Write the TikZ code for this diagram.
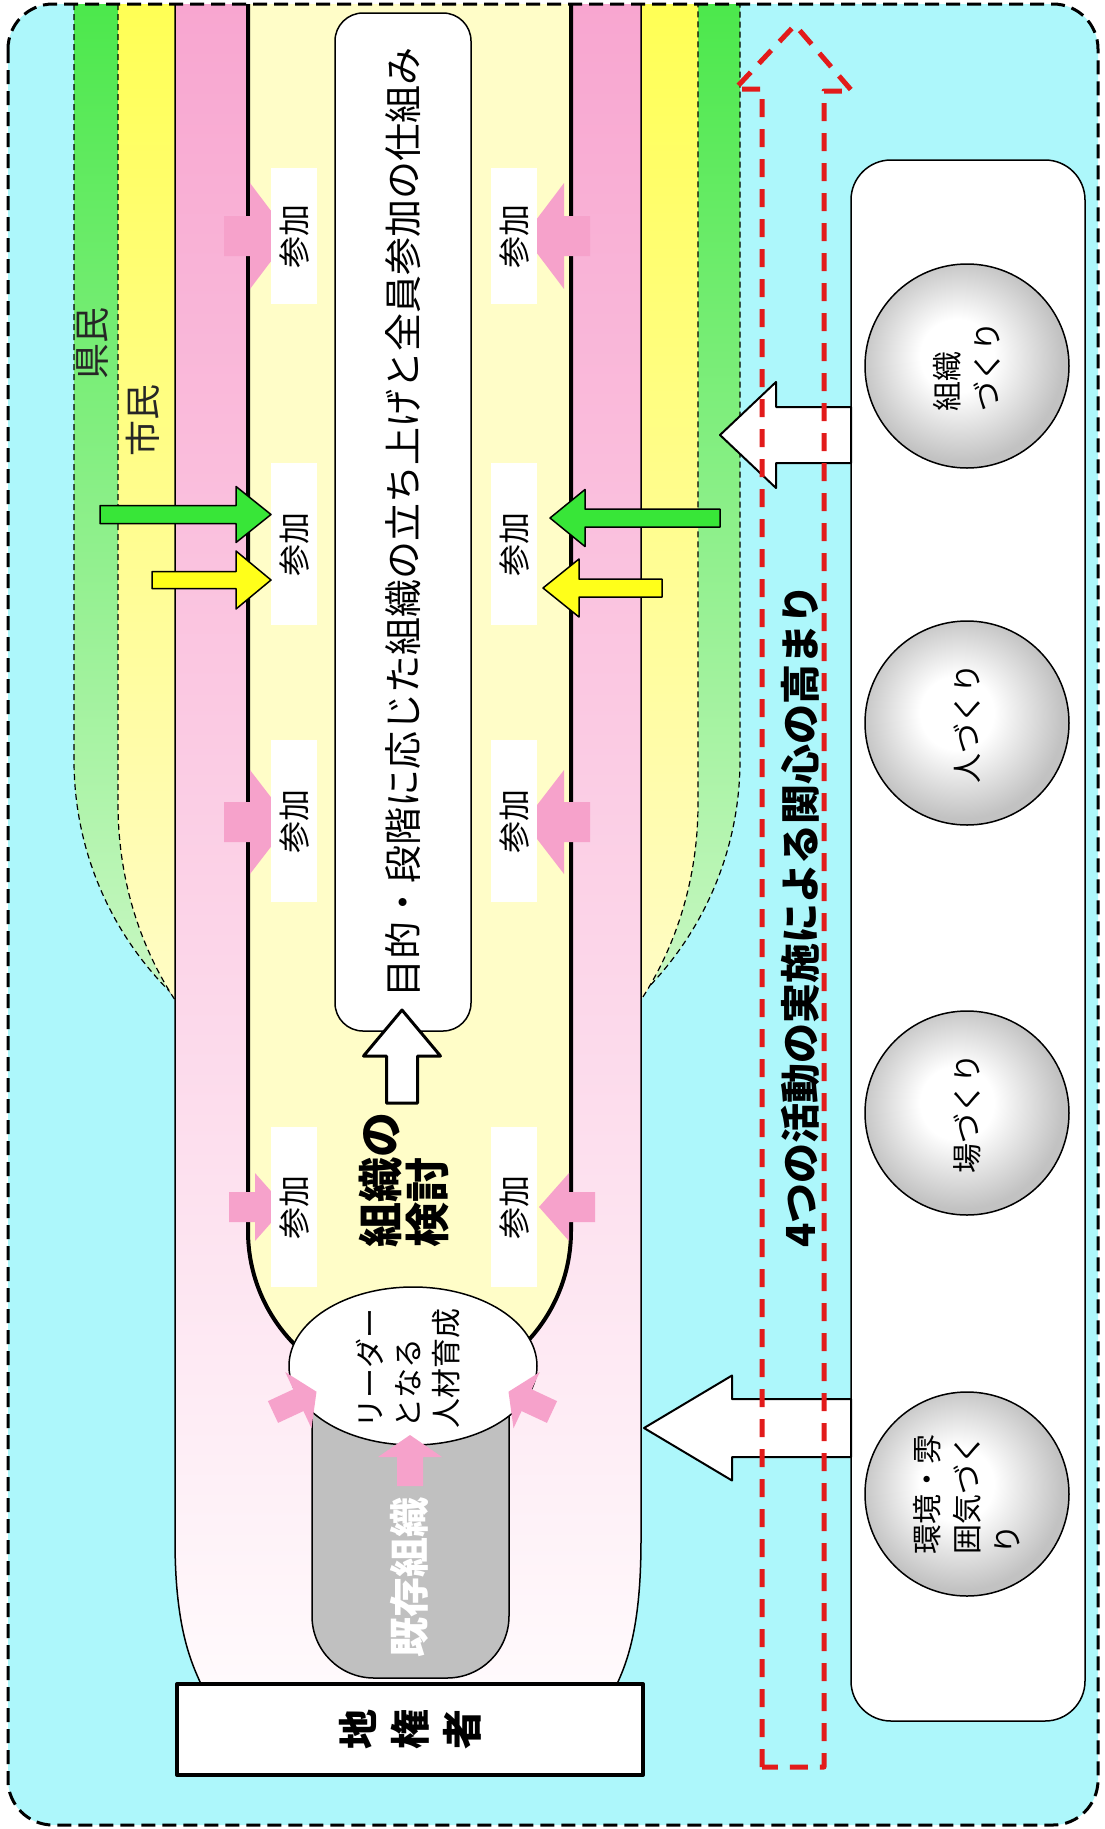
\documentclass[tikz,border=0pt]{standalone}
\usepackage{fontspec}
\newfontfamily\jp{Noto Sans CJK JP}
\usetikzlibrary{shapes.geometric}
\definecolor{sky}{HTML}{ADF7FB}
\definecolor{kgreen}{HTML}{4CE84C}
\definecolor{kgreenpale}{HTML}{D4F8CE}
\definecolor{syellow}{HTML}{FFFF55}
\definecolor{syellowpale}{HTML}{FFFBD4}
\definecolor{cpink}{HTML}{F8A6D0}
\definecolor{cpinkpale}{HTML}{FFFAFC}
\definecolor{uyellow}{HTML}{FFFDC8}
\definecolor{apink}{HTML}{F6A2CB}
\definecolor{agreen}{HTML}{38E638}
\definecolor{ayellow}{HTML}{FFFF1A}
\definecolor{kgray}{HTML}{C0C0C0}
\definecolor{dred}{HTML}{E21B1B}
\pgfdeclareradialshading{ballshade}{\pgfpoint{-3bp}{3bp}}{color(0bp)=(white);
  color(9bp)=(white); color(25bp)=(black!24); color(50bp)=(black!24)}
\tikzset{pics/blk/.style n args={4}{code={
  \path[pic actions] (0,-#2) -- ({#1-#4},-#2) -- ({#1-#4},-#3) -- (#1,0)
    -- ({#1-#4},#3) -- ({#1-#4},#2) -- (0,#2) -- cycle;}}}

\begin{document}
\begin{tikzpicture}[x=1pt, y=1pt, line join=round,
  vtxt/.style={rotate=90, inner sep=0pt, align=left},
  sanka/.style={fill=white, rotate=90, minimum height=46, inner sep=0pt,
    font=\jp\fontsize{32}{34}\selectfont},
  ball/.style={circle, draw, line width=1.5, minimum size=204, inner sep=0pt,
    shading=ballshade, rotate=90, align=left,
    font=\jp\fontsize{30}{40}\selectfont},
  zone/.style={draw, line width=1.2, dash pattern=on 6 off 4}]
  \useasboundingbox (0,0) rectangle (1105,-1829);
  \fill[sky, rounded corners=45] (8,-4) rectangle (1098,-1825);

  \path[zone, top color=kgreen, bottom color=kgreenpale] (74,-4) -- (74,-760)
    arc[start angle=180, end angle=360, x radius=333, y radius=330] -- (740,-4);
  \path[zone, top color=syellow, bottom color=syellowpale] (118,-4) -- (118,-804)
    arc[start angle=180, end angle=360, x radius=290, y radius=329] -- (698,-4);
  \path[draw, line width=1.5, top color=cpink, bottom color=cpinkpale] (175,-4) -- (175,-1540)
    .. controls (175,-1625) and (190,-1660) .. (201,-1684) -- (617,-1684)
    .. controls (628,-1660) and (641,-1625) .. (641,-1540) -- (641,-4);
  \draw[line width=4, fill=uyellow] (248,-4) -- (248,-1231)
    arc[start angle=180, end angle=360, radius=161.5] -- (571,-4);

  \node (goal) [draw, line width=1.5, fill=white, rounded corners=28, rotate=90,
    minimum width=1018, minimum height=136, inner sep=0pt,
    font=\jp\fontsize{38}{40}\selectfont] at (403,-522)
    {目的・段階に応じた組織の立ち上げと全員参加の仕組み};
  \pic[draw, line width=3, fill=white, rotate=90] at (402,-1103) {blk={93}{15.5}{38.5}{46}};

  \node (kizon) [draw, line width=1.5, fill=kgray, rounded corners=62,
    minimum width=197, minimum height=338] at (410.5,-1509) {};
  \node (kizontxt) [vtxt, text=white, font=\jp\bfseries\fontsize{40}{42}\selectfont]
    at (409,-1577) {既存組織};
  \node (leader) [ellipse, draw, line width=1.5, fill=white, minimum width=248,
    minimum height=158, inner sep=0pt] at (413,-1366) {};
  \node (leadertxt) [vtxt, font=\jp\fontsize{30}{38}\selectfont] at (408,-1368)
    {リーダー\\となる\\人材育成};

  \foreach \y/\s/\h/\l/\k/\a/\b in {236/20/53/66/40/224/590, 822/20/52/66/40/224/590,
      1207/15/34/56/30/229/595} {
    \pic[fill=apink] at (\a,-\y) {blk={\l}{\s}{\h}{\k}};
    \pic[fill=apink, rotate=180] at (\b,-\y) {blk={\l}{\s}{\h}{\k}};
  }
  \pic[fill=apink, rotate=25] at (273,-1412) {blk={48}{12}{31}{20}};
  \pic[fill=apink, rotate=155] at (552,-1412) {blk={48}{12}{31}{20}};
  \pic[fill=apink, rotate=90] at (410,-1486) {blk={51}{13}{32}{22}};

  \foreach \y/\hh [count=\i] in {236/136, 544/162, 821/162, 1207/160} {
    \node[sanka, minimum width=\hh] (sl\i) at (294,-\y) {参加};
    \node[sanka, minimum width=\hh] (sr\i) at (514,-\y) {参加};
  }
  \pic[draw, line width=1.5, fill=agreen] at (100,-514.5) {blk={171}{9}{28}{35}};
  \pic[draw, line width=1.5, fill=ayellow] at (152,-580) {blk={119}{8.5}{29}{35}};
  \pic[draw, line width=1.5, fill=agreen, rotate=180] at (720,-518) {blk={170}{9}{28.5}{35}};
  \pic[draw, line width=1.5, fill=ayellow, rotate=180] at (662,-588) {blk={119}{9}{29}{36}};

  \node (kento) [vtxt, font=\jp\bfseries\fontsize{45}{47}\selectfont] at (404,-1180)
    {組織の\\検討};
  \node (chiken) [draw, line width=4, fill=white, rotate=90, minimum width=91,
    minimum height=466, inner sep=0pt, align=center,
    font=\jp\bfseries\fontsize{40}{52}\selectfont] at (410,-1729.5) {地\\権\\者};

  \node (actbox) [draw, line width=1.5, fill=white, rounded corners=40,
    minimum width=234, minimum height=1561] at (968,-940.5) {};
  \node[ball] (c1) at (967,-366) {組織\\づくり};
  \node[ball] (c2) at (967,-723) {人づくり};
  \node[ball] (c3) at (967,-1113) {場づくり};
  \node[ball] (c4) at (967,-1494) {環境・雰\\囲気づく\\り};
  \pic[draw, line width=2, fill=white, rotate=180] at (851,-435) {blk={131}{28}{53}{56}};
  \pic[draw, line width=2, fill=white, rotate=180] at (851,-1428) {blk={207}{29}{52.5}{88}};

  \draw[dred, line width=5, dash pattern=on 18 off 12] (762,-1767) -- (762,-89)
    -- (735,-89) -- (795,-25) -- (852,-91) -- (824,-91) -- (824,-1767) -- cycle;
  \node (kanshin) [vtxt, font=\jp\bfseries\fontsize{40}{42}\selectfont] at (800,-916)
    {4つの活動の実施による関心の高まり};

  \node (kenmin) [vtxt, text=black!85, font=\jp\fontsize{36}{38}\selectfont] at (93,-343) {県民};
  \node (shimin) [vtxt, text=black!85, font=\jp\fontsize{36}{38}\selectfont] at (143,-420) {市民};

  \draw[line width=3, dash pattern=on 14 off 7, rounded corners=45] (8,-4) rectangle (1098,-1825);
\end{tikzpicture}
\end{document}
